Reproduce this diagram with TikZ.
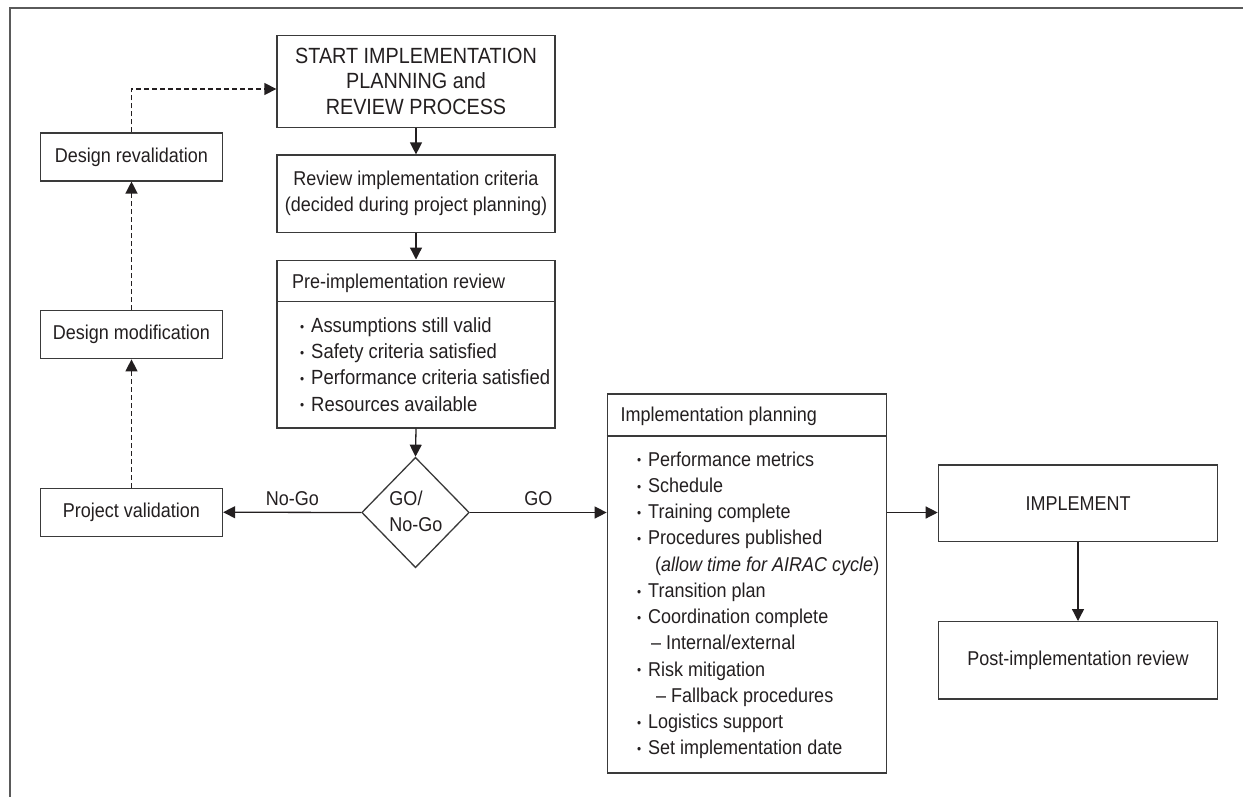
\documentclass[tikz,border=0pt]{standalone}
\usepackage{fontspec}
\setmainfont[FakeStretch=0.9]{Liberation Sans}
\usetikzlibrary{arrows.meta,shapes.geometric}

\definecolor{ink}{HTML}{231F20}
\definecolor{edge}{HTML}{3A3A3A}
\definecolor{framec}{HTML}{5A5A5A}

\newcommand\txt{\fontsize{20}{26}\selectfont}
\newcommand\bigtxt{\fontsize{22}{25.7}\selectfont}
\newcommand\listtxt{\fontsize{20.5}{26}\selectfont}
\newcommand\bul{\makebox[11pt][l]{\raisebox{1.2pt}{\fontsize{13}{13}\selectfont •}}}

\begin{document}
\begin{tikzpicture}[x=1pt,y=-1pt,
  box/.style={draw=edge, line width=1.3pt, rectangle, inner sep=0pt,
              align=center, font=\txt, text=ink},
  sidebox/.style={box, minimum width=182pt, minimum height=48pt},
  item/.style={anchor=base west, inner sep=0pt, font=\txt, text=ink},
  preitem/.style={item, font=\listtxt},
  lbl/.style={anchor=base, inner sep=0pt, font=\txt, text=ink},
  arr/.style={draw=ink, line width=1.3pt, -{Triangle[length=12pt,width=12pt]}},
  darr/.style={arr, dash pattern=on 5pt off 3pt}]

\useasboundingbox (0,0) rectangle (1243,796);
\fill[white] (0,0) rectangle (1243,796);

% outer frame (left and top edges)
\draw[framec, line width=2pt] (9.5,810) -- (9.5,7.5) -- (1260,7.5);

% main column
\node[box, minimum width=278pt, minimum height=92pt, font=\bigtxt] (start)
  at (416,81.2) {START IMPLEMENTATION\\PLANNING and\\REVIEW PROCESS};
\node[box, minimum width=278pt, minimum height=77.3pt] (crit)
  at (416,193.7) {Review implementation criteria\\(decided during project planning)};

\node[box, minimum width=278pt, minimum height=167.7pt] (pre) at (416,344) {};
\draw[edge, line width=1.3pt] ([yshift=-42.3pt]pre.north west) -- ([yshift=-42.3pt]pre.north east);
\node[item] (preh) at (292,288.3) {Pre-implementation review};
\node[preitem] (pl1) at (300,332.5) {\bul Assumptions still valid};
\node[preitem] (pl2) at (300,358.7) {\bul Safety criteria satisfied};
\node[preitem] (pl3) at (300,384.9) {\bul Performance criteria satisfied};
\node[preitem] (pl4) at (300,411.1) {\bul Resources available};

\node[diamond, draw=edge, line width=1.3pt, minimum width=107.6pt,
      minimum height=110.4pt, inner sep=0pt] (dec) at (415.5,512.5) {};
\node[align=left, inner sep=0pt, font=\txt, text=ink] (dect) at (416,511) {GO/\\No-Go};

% feedback column
\node[sidebox] (projval)  at (131.5,512.2) {Project validation};
\node[sidebox] (desmod)   at (131.5,334.7) {Design modification};
\node[sidebox] (desreval) at (131.5,156.9) {Design revalidation};

% implementation planning
\node[box, minimum width=279.4pt, minimum height=379pt] (impl) at (747,583.5) {};
\draw[edge, line width=1.3pt] ([yshift=-42.7pt]impl.north west) -- ([yshift=-42.7pt]impl.north east);
\node[item] (implh) at (620.5,421.7) {Implementation planning};
\node[item] (ip1)  at (637,466)   {\bul Performance metrics};
\node[item] (ip2)  at (637,492.3) {\bul Schedule};
\node[item] (ip3)  at (637,518.5) {\bul Training complete};
\node[item] (ip4)  at (637,544.8) {\bul Procedures published};
\node[item] (ip5)  at (655,571)   {(\textit{allow time for AIRAC cycle})};
\node[item] (ip6)  at (637,597.3) {\bul Transition plan};
\node[item] (ip7)  at (637,623.5) {\bul Coordination complete};
\node[item] (ip8)  at (651,649.8) {– Internal/external};
\node[item] (ip9)  at (637,676)   {\bul Risk mitigation};
\node[item] (ip10) at (656,702.3) {– Fallback procedures};
\node[item] (ip11) at (637,728.5) {\bul Logistics support};
\node[item] (ip12) at (637,754.8) {\bul Set implementation date};

\node[box, minimum width=279.3pt, minimum height=76.7pt] (implement) at (1078,503.3) {IMPLEMENT};
\node[box, minimum width=279.3pt, minimum height=77.3pt] (post) at (1078,660.3) {Post-implementation review};

% connectors
\draw[arr] (start.south) -- (crit.north);
\draw[arr] (crit.south) -- (pre.north);
\draw[arr] (pre.south) -- (dec.north);
\draw[arr] (dec.west) -- (projval.east);
\draw[arr] (dec.east) -- (impl.west |- dec.east);
\draw[arr] (impl.east |- dec.east) -- (implement.west |- dec.east);
\draw[arr] (implement.south) -- (post.north);

\draw[darr] (projval.north) -- (desmod.south);
\draw[darr] (desmod.north) -- (desreval.south);
\coordinate (loop) at (131.5,89);
\draw[darr] (desreval.north) -- (loop) -- (start.west |- loop);

\node[lbl] (nogo) at (292.5,505) {No-Go};
\node[lbl] (go)   at (538.3,505) {GO};
\end{tikzpicture}
\end{document}
